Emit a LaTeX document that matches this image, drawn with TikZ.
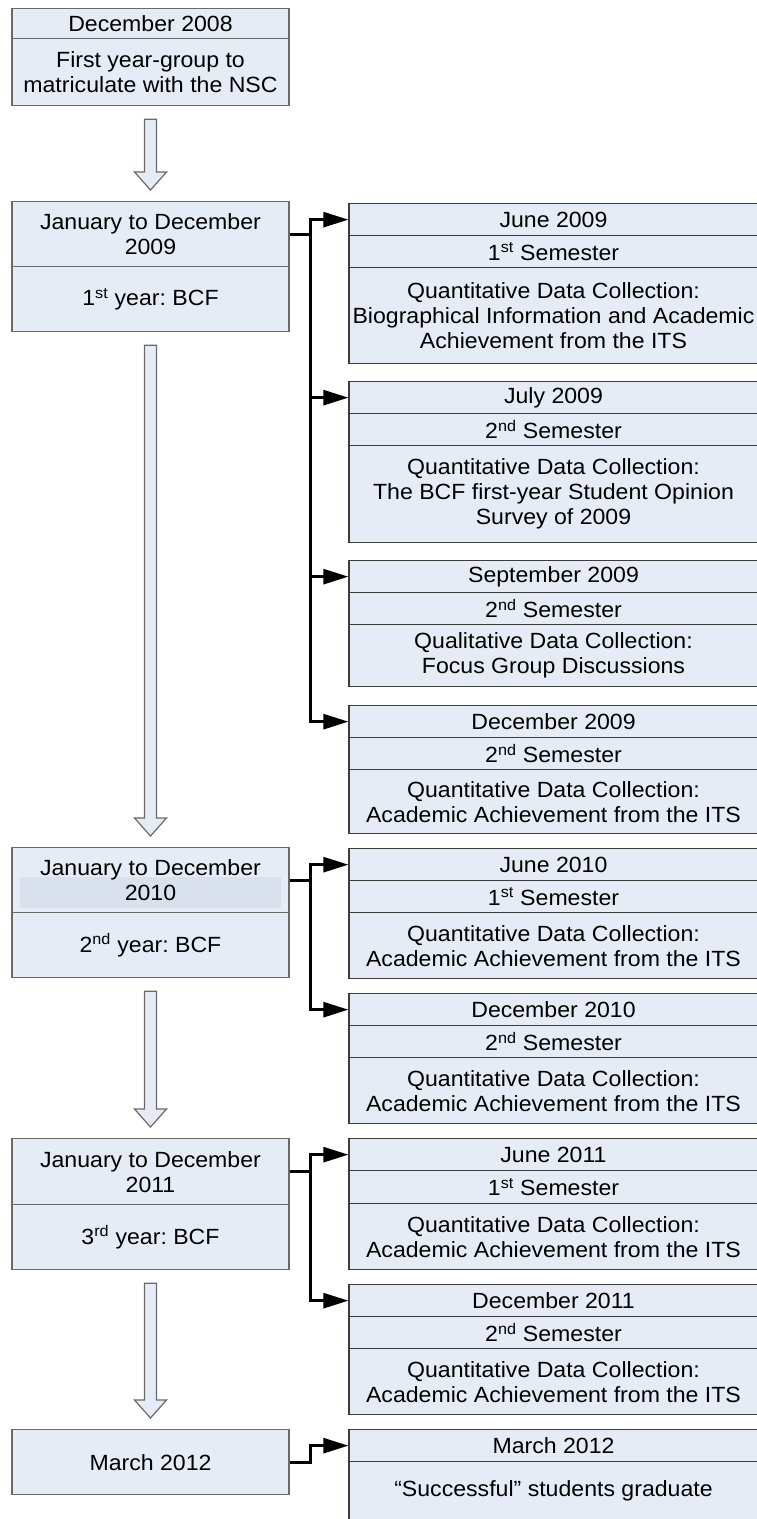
\documentclass[tikz,border=0pt]{standalone}
\usepackage{fontspec}
\setmainfont{Liberation Sans}[FakeStretch=1.05]
\usetikzlibrary{arrows.meta,calc}
\definecolor{boxfill}{HTML}{E6ECF6}
\definecolor{bandfill}{HTML}{D8E1ED}
\definecolor{leftline}{HTML}{6A6A6A}
\definecolor{rightline}{HTML}{3C3C3C}
\frenchspacing

% hollow block arrow from the bottom of one box to the top of the next
\newcommand\blockarrow[2]{%
  \path[barrow] let \p1=($(#1.south)+(0,-13pt)$), \p2=($(#2.north)+(0,11pt)$) in
    (\x1-6pt,\y1) -- (\x1+6pt,\y1) -- (\x1+6pt,\y2+18pt) -- (\x1+16pt,\y2+18pt)
    -- (\x1,\y2) -- (\x1-16pt,\y2+18pt) -- (\x1-6pt,\y2+18pt) -- cycle;}

\begin{document}
\begin{tikzpicture}[x=1pt,y=-1pt,
  lbl/.style={font=\fontsize{22}{25}\selectfont, align=center, inner sep=0pt,
    fill=boxfill, line width=1.3pt, anchor=north},
  leftcell/.style={lbl, draw=leftline, minimum width=277pt},
  rightcell/.style={lbl, draw=rightline, minimum width=409pt},
  conn/.style={line width=2.7pt, line join=miter, -{Triangle[length=25pt,width=15pt]}},
  barrow/.style={draw=leftline, fill=boxfill, line width=1.2pt, line join=miter}]

\useasboundingbox (0,0) rectangle (756,1519);

% ---- timeline column ----
\node[leftcell, minimum height=30pt] (d08a) at (150.5,8) {December 2008};
\node[leftcell, minimum height=67pt] (d08b) at (150.5,38) {First year-group to\\matriculate with the NSC};

\node[leftcell, minimum height=65pt] (y09a) at (150.5,201) {January to December\\2009};
\node[leftcell, minimum height=65pt] (y09b) at (150.5,266) {1\textsuperscript{st} year: BCF};

\node[leftcell, minimum height=65pt,
  path picture={\fill[bandfill] ($(path picture bounding box.north west)+(8pt,-29pt)$)
    rectangle ($(path picture bounding box.north east)+(-8pt,-60pt)$);}]
  (y10a) at (150.5,847) {January to December\\2010};
\node[leftcell, minimum height=65pt] (y10b) at (150.5,912) {2\textsuperscript{nd} year: BCF};

\node[leftcell, minimum height=66pt] (y11a) at (150.5,1138) {January to December\\2011};
\node[leftcell, minimum height=65pt] (y11b) at (150.5,1204) {3\textsuperscript{rd} year: BCF};

\node[leftcell, minimum height=65pt] (m12l) at (150.5,1429) {March 2012};

\blockarrow{d08b}{y09a}
\blockarrow{y09b}{y10a}
\blockarrow{y10b}{y11a}
\blockarrow{y11b}{m12l}

% ---- data collection column ----
\node[rightcell, minimum height=32pt] (j09a) at (553.5,203) {June 2009};
\node[rightcell, minimum height=32pt] (j09b) at (553.5,235) {1\textsuperscript{st} Semester};
\node[rightcell, minimum height=96pt] (j09c) at (553.5,267) {Quantitative Data Collection:\\Biographical Information and Academic\\Achievement from the ITS};

\node[rightcell, minimum height=32pt] (jl09a) at (553.5,381) {July 2009};
\node[rightcell, minimum height=32pt] (jl09b) at (553.5,413) {2\textsuperscript{nd} Semester};
\node[rightcell, minimum height=97pt] (jl09c) at (553.5,445) {Quantitative Data Collection:\\The BCF first-year Student Opinion\\Survey of 2009};

\node[rightcell, minimum height=32pt] (s09a) at (553.5,560) {September 2009};
\node[rightcell, minimum height=32pt] (s09b) at (553.5,592) {2\textsuperscript{nd} Semester};
\node[rightcell, minimum height=62pt] (s09c) at (553.5,624) {Qualitative Data Collection:\\Focus Group Discussions};

\node[rightcell, minimum height=32pt] (d09a) at (553.5,705) {December 2009};
\node[rightcell, minimum height=32pt] (d09b) at (553.5,737) {2\textsuperscript{nd} Semester};
\node[rightcell, minimum height=64pt] (d09c) at (553.5,769) {Quantitative Data Collection:\\Academic Achievement from the ITS};

\node[rightcell, minimum height=32pt] (j10a) at (553.5,848) {June 2010};
\node[rightcell, minimum height=32pt] (j10b) at (553.5,880) {1\textsuperscript{st} Semester};
\node[rightcell, minimum height=66pt] (j10c) at (553.5,912) {Quantitative Data Collection:\\Academic Achievement from the ITS};

\node[rightcell, minimum height=32pt] (d10a) at (553.5,993) {December 2010};
\node[rightcell, minimum height=32pt] (d10b) at (553.5,1025) {2\textsuperscript{nd} Semester};
\node[rightcell, minimum height=66pt] (d10c) at (553.5,1057) {Quantitative Data Collection:\\Academic Achievement from the ITS};

\node[rightcell, minimum height=32pt] (j11a) at (553.5,1138) {June 2011};
\node[rightcell, minimum height=33pt] (j11b) at (553.5,1170) {1\textsuperscript{st} Semester};
\node[rightcell, minimum height=66pt] (j11c) at (553.5,1203) {Quantitative Data Collection:\\Academic Achievement from the ITS};

\node[rightcell, minimum height=32pt] (d11a) at (553.5,1284) {December 2011};
\node[rightcell, minimum height=32pt] (d11b) at (553.5,1316) {2\textsuperscript{nd} Semester};
\node[rightcell, minimum height=66pt] (d11c) at (553.5,1348) {Quantitative Data Collection:\\Academic Achievement from the ITS};

\node[rightcell, minimum height=32pt] (m12a) at (553.5,1429) {March 2012};
\node[rightcell, minimum height=58pt] (m12b) at (553.5,1461) {“Successful” students graduate};

% ---- connectors ----
\draw[conn] (y09a.east) -- ++(21,0) |- (j09a.west);
\draw[conn] (y09a.east) -- ++(21,0) |- (jl09a.west);
\draw[conn] (y09a.east) -- ++(21,0) |- (s09a.west);
\draw[conn] (y09a.east) -- ++(21,0) |- (d09a.west);

\draw[conn] (y10a.east) -- ++(21,0) |- (j10a.west);
\draw[conn] (y10a.east) -- ++(21,0) |- (d10a.west);

\draw[conn] (y11a.east) -- ++(21,0) |- (j11a.west);
\draw[conn] (y11a.east) -- ++(21,0) |- (d11a.west);

\draw[conn] (m12l.east) -- ++(21,0) |- (m12a.west);
\end{tikzpicture}
\end{document}
